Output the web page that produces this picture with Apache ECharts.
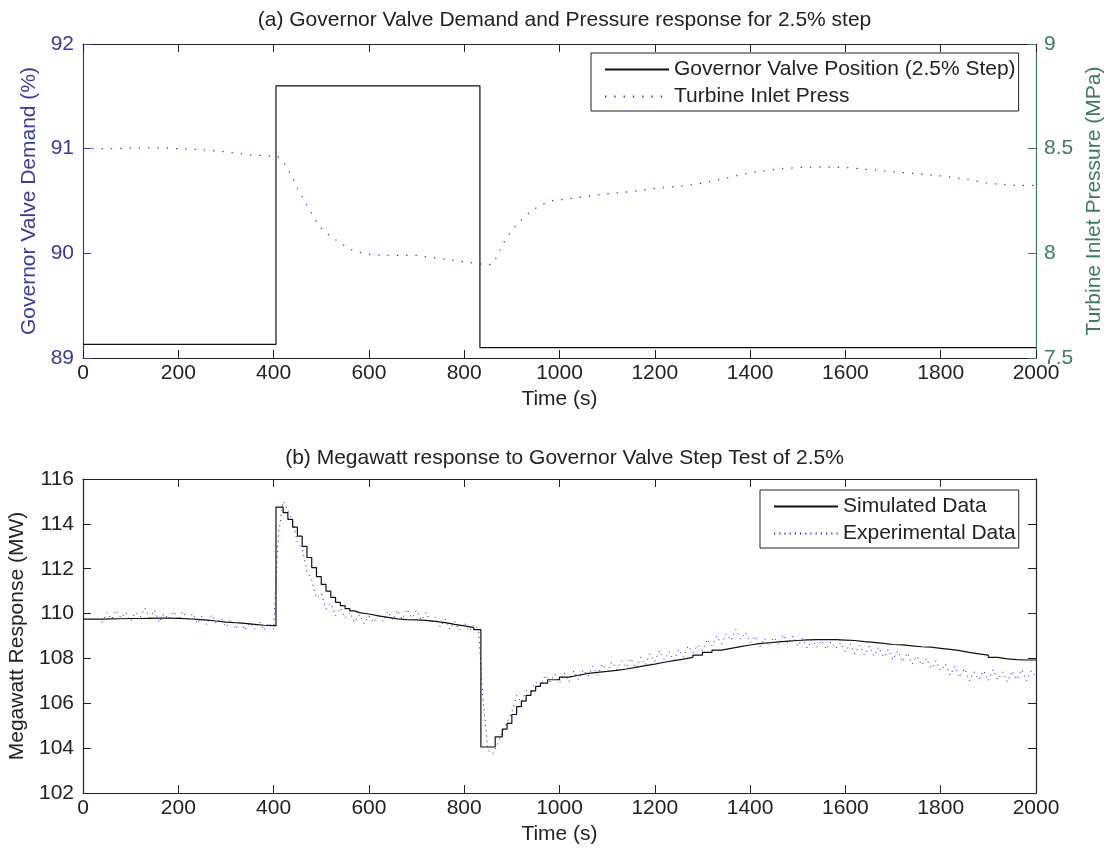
<!DOCTYPE html>
<html>
<head>
<meta charset="utf-8">
<script src="https://cdn.jsdelivr.net/npm/echarts@6/dist/echarts.min.js"></script>
<style>
html,body{margin:0;padding:0;background:#fff;}
#chart{width:1107px;height:850px;}
</style>
</head>
<body>
<div id="chart"></div>
<script>
// ---- Data ----
var xTicks = [0, 200, 400, 600, 800, 1000, 1200, 1400, 1600, 1800, 2000];

// (a) Governor valve position (%), step points
var gvTime = [0, 405, 833, 2000];
var gvValue = [89.13, 91.6, 89.1, 89.1];

// (a) Turbine inlet pressure (MPa)
var pTime = [0,50,100,150,200,250,300,350,400,410,420,430,440,450,460,470,480,490,500,520,540,560,580,600,650,700,750,800,830,850,860,870,880,890,900,920,940,960,980,1000,1050,1100,1150,1200,1250,1300,1350,1400,1450,1500,1550,1600,1650,1700,1750,1800,1850,1900,1950,2000];
var pValue = [8.5,8.5,8.503,8.505,8.5,8.495,8.485,8.47,8.465,8.46,8.44,8.40,8.36,8.31,8.27,8.23,8.19,8.15,8.12,8.08,8.05,8.02,8.005,7.995,7.99,7.99,7.975,7.96,7.95,7.945,7.95,7.99,8.04,8.08,8.11,8.16,8.2,8.23,8.25,8.255,8.27,8.285,8.295,8.31,8.32,8.335,8.36,8.385,8.40,8.41,8.413,8.41,8.40,8.39,8.38,8.37,8.355,8.335,8.325,8.325];

// (b) Simulated MW (staircase)
var simTime = [0,20,40,60,80,100,120,140,160,180,200,220,240,260,280,300,320,340,360,380,400,405,420,430,440,450,460,470,480,490,500,510,520,530,540,550,560,570,580,600,620,640,660,680,700,720,740,760,780,800,820,835,855,865,880,890,900,910,920,930,940,950,960,975,1000,1020,1040,1060,1080,1100,1120,1140,1160,1180,1200,1220,1240,1260,1280,1300,1320,1340,1360,1380,1400,1420,1440,1460,1480,1500,1520,1540,1560,1580,1600,1620,1640,1660,1680,1700,1720,1740,1760,1780,1800,1820,1840,1860,1880,1900,1920,1940,1960,1980,2000];
var simMW = [109.75,109.75,109.76,109.77,109.78,109.78,109.79,109.8,109.8,109.79,109.77,109.74,109.71,109.67,109.62,109.59,109.56,109.52,109.48,109.46,109.45,114.75,114.5,114.2,113.85,113.45,113.0,112.5,112.05,111.65,111.3,111.0,110.72,110.5,110.35,110.22,110.12,110.04,109.98,109.9,109.83,109.76,109.73,109.72,109.7,109.65,109.6,109.52,109.45,109.37,109.28,104.05,104.05,104.5,104.85,105.1,105.5,105.85,106.1,106.35,106.55,106.75,106.9,107.05,107.17,107.25,107.33,107.38,107.42,107.47,107.53,107.6,107.68,107.75,107.83,107.9,107.97,108.05,108.15,108.27,108.37,108.45,108.53,108.6,108.66,108.7,108.74,108.77,108.8,108.83,108.84,108.84,108.84,108.82,108.8,108.75,108.72,108.67,108.62,108.6,108.56,108.52,108.5,108.45,108.4,108.35,108.27,108.2,108.15,108.05,107.98,107.95,107.93,107.93,107.93];

// (b) Experimental MW, every 10 s from 40 s
var expStart = 40, expStep = 10;
var expMW = [
109.6,110.05,109.75,110.15,109.8,110.05,109.65,110.05,109.85,110.25,109.8,110.15,109.6,110.0,109.75,110.1,109.7,110.1,109.65,110.0,109.55,109.9,109.5,109.95,109.55,109.8,109.4,109.75,109.3,109.7,109.25,109.6,109.3,109.65,109.25,109.6,109.3,
113.5,115.0,114.6,114.1,113.2,112.9,111.9,111.5,110.7,110.9,110.2,110.45,109.9,110.25,109.8,110.05,109.6,109.95,109.55,109.9,109.6,110.0,109.65,110.1,109.7,110.15,109.75,110.2,109.8,110.15,109.7,110.05,109.55,109.85,109.4,109.75,109.3,109.65,109.25,109.6,109.2,109.5,109.3,
106.0,103.9,103.75,104.2,104.7,105.15,105.6,106.35,106.05,106.55,106.55,106.95,106.75,107.25,106.95,107.3,106.9,
107.35,106.95,107.45,107.05,107.5,107.2,107.65,107.25,107.75,107.4,107.85,107.5,107.9,107.6,108.0,107.55,108.05,107.7,108.2,107.85,108.35,107.95,108.3,107.9,108.4,108.05,108.55,108.25,108.6,108.35,108.85,108.55,109.0,108.65,109.1,108.8,109.3,108.85,109.15,108.7,109.0,108.5,108.9,108.55,108.95,108.6,109.05,108.65,109.0,108.55,108.9,108.45,108.85,108.5,108.8,108.4,108.75,108.45,108.7,108.3,108.65,108.2,108.6,108.15,108.55,108.1,108.5,108.05,108.4,107.95,108.35,107.85,108.25,107.75,108.1,107.7,108.0,107.55,107.9,107.45,107.75,107.25,107.65,107.15,107.55,107.0,107.4,107.05,107.45,107.0,107.5,107.05,107.4,106.95,107.45,107.05,107.5,107.0,107.45,107.2
];

// ---- Build ----
function pairs(xs, ys){ return xs.map(function(x,i){ return [x, ys[i]]; }); }
var expData = expMW.map(function(v,i){ return [expStart + i*expStep, v]; });

var FONT = "'Liberation Sans', Arial, Helvetica, sans-serif";
var FS = 21;
var BLUE = '#3a3a9c';
var GREEN = '#3f7a5a';
var DOT = '#2a2ad0';
function plain(v){ return String(v); }

function xAxisMain(gi){
  return {
    gridIndex: gi, type: 'value', min: 0, max: 2000, interval: 200, position: 'bottom',
    name: 'Time (s)', nameLocation: 'middle', nameGap: 31,
    nameTextStyle: {fontFamily: FONT, fontSize: FS, color: '#222'},
    axisLine: {show: true, onZero: false, lineStyle: {color: '#222', width: 1.2}},
    axisTick: {show: true, inside: true, length: 8, lineStyle: {color: '#222'}},
    axisLabel: {fontFamily: FONT, fontSize: FS, color: '#222', margin: 5, formatter: plain},
    splitLine: {show: false}
  };
}
function xAxisTop(gi){
  return {
    gridIndex: gi, type: 'value', min: 0, max: 2000, interval: 200, position: 'top',
    axisLine: {show: true, onZero: false, lineStyle: {color: '#222', width: 1}},
    axisTick: {show: true, inside: true, length: 8, lineStyle: {color: '#222'}},
    axisLabel: {show: false}, splitLine: {show: false}
  };
}
var legendCommon = {
  orient: 'vertical', padding: [6, 3, 4, 13], itemGap: 6, itemWidth: 64, itemHeight: 14,
  borderColor: '#222', borderWidth: 1, itemStyle: {opacity: 0},
  textStyle: {fontFamily: FONT, fontSize: FS, color: '#222'}
};

var option = {
  animation: false,
  backgroundColor: '#fff',
  title: [
    {text: '(a) Governor Valve Demand and Pressure response for 2.5% step', left: 559.5, textAlign: 'center', top: 5,
     textStyle: {fontFamily: FONT, fontSize: FS, fontWeight: 'normal', color: '#222'}},
    {text: '(b) Megawatt response to Governor Valve Step Test of 2.5%', left: 559.5, textAlign: 'center', top: 443,
     textStyle: {fontFamily: FONT, fontSize: FS, fontWeight: 'normal', color: '#222'}}
  ],
  legend: [
    Object.assign({data: ['Governor Valve Position (2.5% Step)', 'Turbine Inlet Press'], left: 591, top: 53}, legendCommon),
    Object.assign({data: ['Simulated Data', 'Experimental Data'], left: 760, top: 490}, legendCommon)
  ],
  grid: [
    {left: 83, right: 71, top: 44, height: 314, outerBoundsMode: 'none', containLabel: false},
    {left: 83, right: 71, top: 479, height: 314, outerBoundsMode: 'none', containLabel: false}
  ],
  xAxis: [xAxisMain(0), xAxisTop(0), xAxisMain(1), xAxisTop(1)],
  yAxis: [
    {gridIndex: 0, type: 'value', min: 89, max: 92, interval: 1, position: 'left',
     name: 'Governor Valve Demand (%)', nameLocation: 'middle', nameGap: 37,
     nameTextStyle: {fontFamily: FONT, fontSize: FS, color: BLUE},
     axisLine: {show: true, onZero: false, lineStyle: {color: BLUE, width: 1.2}},
     axisTick: {show: true, inside: true, length: 8, lineStyle: {color: BLUE}},
     axisLabel: {fontFamily: FONT, fontSize: FS, color: BLUE, margin: 9, formatter: plain},
     splitLine: {show: false}},
    {gridIndex: 0, type: 'value', min: 7.5, max: 9, interval: 0.5, position: 'right',
     name: 'Turbine Inlet Pressure (MPa)', nameLocation: 'middle', nameGap: 45,
     nameTextStyle: {fontFamily: FONT, fontSize: FS, color: GREEN},
     axisLine: {show: true, onZero: false, lineStyle: {color: GREEN, width: 1.2}},
     axisTick: {show: true, inside: true, length: 8, lineStyle: {color: GREEN}},
     axisLabel: {fontFamily: FONT, fontSize: FS, color: GREEN, margin: 8, formatter: plain},
     splitLine: {show: false}},
    {gridIndex: 1, type: 'value', min: 102, max: 116, interval: 2, position: 'left',
     name: 'Megawatt Response (MW)', nameLocation: 'middle', nameGap: 52,
     nameTextStyle: {fontFamily: FONT, fontSize: FS, color: '#222'},
     axisLine: {show: true, onZero: false, lineStyle: {color: '#222', width: 1.2}},
     axisTick: {show: true, inside: true, length: 8, lineStyle: {color: '#222'}},
     axisLabel: {fontFamily: FONT, fontSize: FS, color: '#222', margin: 9, formatter: plain},
     splitLine: {show: false}},
    {gridIndex: 1, type: 'value', min: 102, max: 116, interval: 2, position: 'right',
     axisLine: {show: true, onZero: false, lineStyle: {color: '#222', width: 1.2}},
     axisTick: {show: true, inside: true, length: 8, lineStyle: {color: '#222'}},
     axisLabel: {show: false}, splitLine: {show: false}}
  ],
  series: [
    {name: 'Governor Valve Position (2.5% Step)', type: 'line', xAxisIndex: 0, yAxisIndex: 0,
     step: 'end', showSymbol: false, symbol: 'none', data: pairs(gvTime, gvValue),
     lineStyle: {color: '#111', width: 1.2}, itemStyle: {color: '#111'}},
    {name: 'Turbine Inlet Press', type: 'line', xAxisIndex: 0, yAxisIndex: 1,
     showSymbol: false, symbol: 'none', data: pairs(pTime, pValue), smooth: false,
     lineStyle: {color: DOT, width: 1.2, type: [1.3, 8]}, itemStyle: {color: DOT}},
    {name: 'Experimental Data', type: 'line', xAxisIndex: 2, yAxisIndex: 2,
     showSymbol: false, symbol: 'none', data: expData,
     lineStyle: {color: DOT, width: 1, type: [1.2, 4]}, itemStyle: {color: DOT}},
    {name: 'Simulated Data', type: 'line', xAxisIndex: 2, yAxisIndex: 2,
     step: 'end', showSymbol: false, symbol: 'none', data: pairs(simTime, simMW),
     lineStyle: {color: '#111', width: 1.2}, itemStyle: {color: '#111'}}
  ]
};

var chart = echarts.init(document.getElementById('chart'), null, {renderer: 'canvas'});
chart.setOption(option);
</script>
</body>
</html>
